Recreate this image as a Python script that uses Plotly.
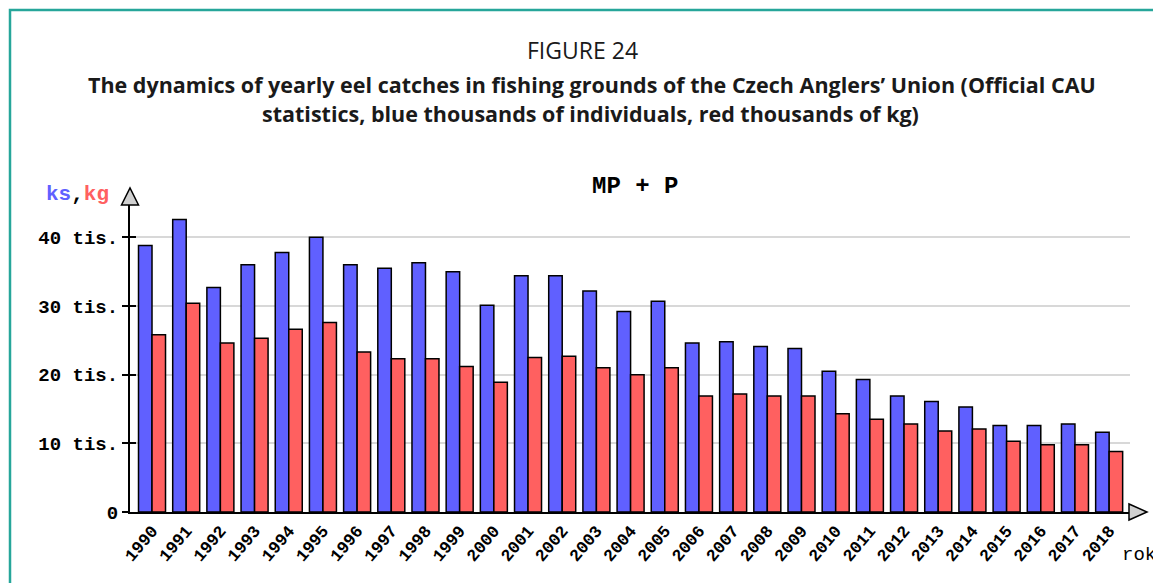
import plotly.graph_objects as go

years = [str(y) for y in range(1990, 2019)]
ks_thousands = [38.8, 42.6, 32.7, 36.0, 37.8, 40.0, 36.0, 35.5, 36.3, 35.0,
                30.1, 34.4, 34.4, 32.2, 29.2, 30.7, 24.6, 24.8, 24.1, 23.8,
                20.5, 19.3, 16.9, 16.1, 15.3, 12.6, 12.6, 12.8, 11.6]
kg_thousands = [25.8, 30.4, 24.6, 25.3, 26.6, 27.6, 23.3, 22.3, 22.3, 21.2,
                18.9, 22.5, 22.7, 21.0, 20.0, 21.0, 16.9, 17.2, 16.9, 16.9,
                14.3, 13.5, 12.8, 11.8, 12.1, 10.3, 9.8, 9.8, 8.8]
y_tickvals = [0, 10, 20, 30, 40]
y_ticktext = ["0", "10 tis.", "20 tis.", "30 tis.", "40 tis."]

BLUE = "#6060ff"
RED = "#ff6060"
MONO = "Liberation Mono"

fig = go.Figure()
fig.add_trace(go.Bar(x=years, y=ks_thousands, name="ks", marker=dict(color=BLUE, line=dict(color="#000000", width=1.5))))
fig.add_trace(go.Bar(x=years, y=kg_thousands, name="kg", marker=dict(color=RED, line=dict(color="#000000", width=1.5))))
# invisible trace on overlay axis for inner ticks
fig.add_trace(go.Scatter(x=[years[0]], y=[0], yaxis="y2", mode="markers", marker=dict(opacity=0), showlegend=False, hoverinfo="skip"))

fig.update_layout(
    width=1161, height=583,
    margin=dict(l=122, r=39, t=195, b=79),
    paper_bgcolor="white", plot_bgcolor="white",
    barmode="group", bargap=0.21, bargroupgap=0,
    showlegend=False,
    xaxis=dict(
        type="category", range=[-0.644, 28.61],
        showline=True, linecolor="#000000", linewidth=2,
        showgrid=False, ticks="", tickangle=-50,
        tickfont=dict(family=MONO, size=17, color="#000000", weight="bold"),
    ),
    yaxis=dict(
        range=[0, 45], tickvals=y_tickvals, ticktext=y_ticktext,
        showline=True, linecolor="#000000", linewidth=2,
        showgrid=True, gridcolor="#d8d8d8", gridwidth=1.5,
        ticks="outside", ticklen=6, tickwidth=2, tickcolor="#000000",
        tickfont=dict(family=MONO, size=19, color="#000000", weight="bold"),
        zeroline=False,
    ),
    yaxis2=dict(
        range=[0, 45], overlaying="y", side="left", tickvals=[10, 20, 30, 40],
        showticklabels=False, ticks="inside", ticklen=6, tickwidth=2, tickcolor="#000000",
        showgrid=False, showline=False, zeroline=False,
    ),
)

fig.add_annotation(text="FIGURE 24", xref="paper", yref="paper", x=0.452, y=1.495,
                   xanchor="center", yanchor="middle",
                   showarrow=False, font=dict(family="Open Sans", size=23, color="#1a1a1a"))
fig.add_annotation(text="<b>The dynamics of yearly eel catches in fishing grounds of the Czech Anglers’ Union (Official CAU</b>",
                   xref="paper", yref="paper", x=0.462, y=1.382, xanchor="center", yanchor="middle", showarrow=False,
                   font=dict(family="Open Sans", size=21.5, color="#1a1a1a"))
fig.add_annotation(text="<b>statistics, blue thousands of individuals, red thousands of kg)</b>",
                   xref="paper", yref="paper", x=0.46, y=1.291, xanchor="center", yanchor="middle", showarrow=False,
                   font=dict(family="Open Sans", size=21.5, color="#1a1a1a"))
fig.add_annotation(text="<b>MP + P</b>", xref="paper", yref="paper", x=0.505, y=1.052,
                   xanchor="center", yanchor="middle",
                   showarrow=False, font=dict(family=MONO, size=24, color="#000000"))
fig.add_annotation(text=f"<b><span style='color:{BLUE}'>ks</span>,<span style='color:{RED}'>kg</span></b>",
                   xref="paper", yref="paper", x=-0.053, y=1.026, xanchor="center", yanchor="middle", showarrow=False,
                   font=dict(family=MONO, size=21, color="#000000"))
fig.add_annotation(text="rok", xref="paper", yref="paper", x=0.99, y=-0.14, xanchor="left", yanchor="middle",
                   showarrow=False, font=dict(family=MONO, size=19, color="#000000"))

# axis arrows
fig.add_shape(type="path", xref="paper", yref="paper",
              path="M -0.0085,0.9935 L 0.0085,0.9935 L 0,1.0485 Z",
              fillcolor="#d0d0d0", line=dict(color="#000000", width=1.5))
fig.add_shape(type="path", xref="paper", yref="paper",
              path="M 0.999,0.026 L 0.999,-0.026 L 1.017,0 Z",
              fillcolor="#d0d0d0", line=dict(color="#000000", width=1.5))
# page frame
fig.add_shape(type="rect", xref="paper", yref="paper", x0=-0.12, y0=-0.3, x1=1.2, y1=1.625,
              line=dict(color="#26a69a", width=2.5), fillcolor="rgba(0,0,0,0)", layer="below")

fig.write_html("out.html")
